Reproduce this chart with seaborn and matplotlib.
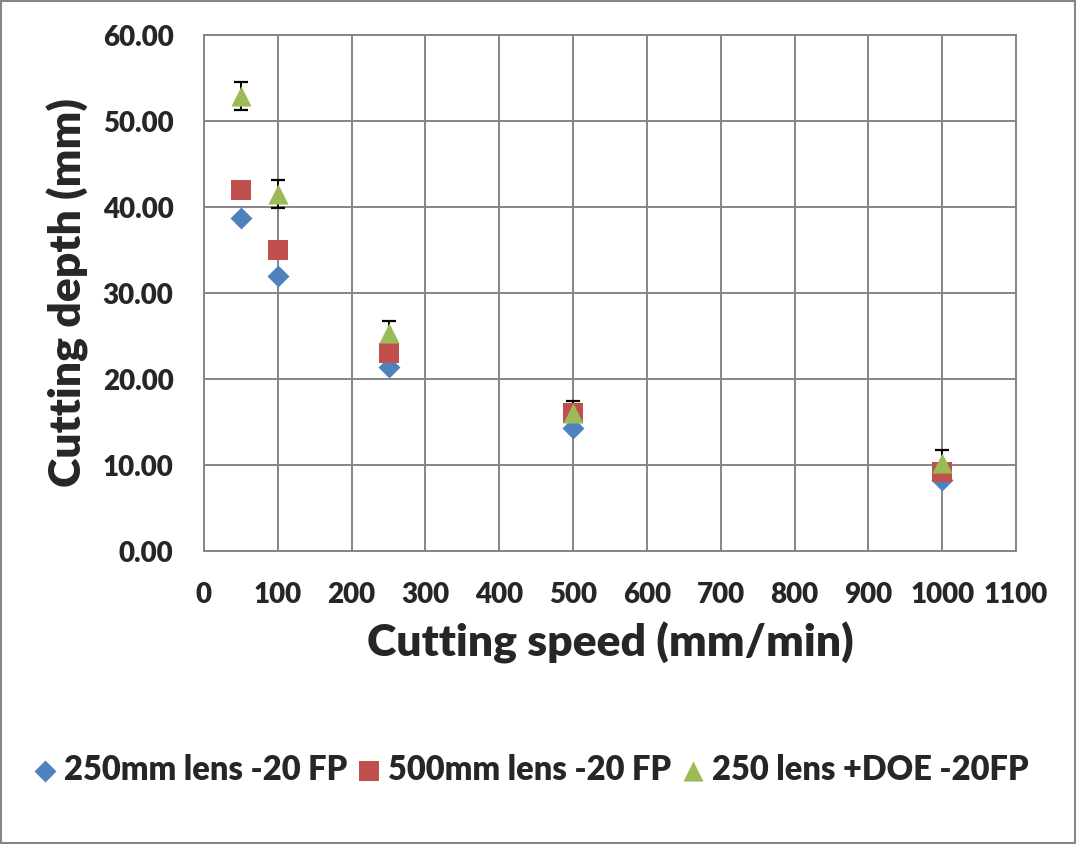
import numpy as np
import pandas as pd
import matplotlib
matplotlib.use('Agg')
import matplotlib.pyplot as plt
import seaborn as sns
from matplotlib.patches import Rectangle

sns.set_theme(style = 'white')
plt.rcParams['font.family'] = ['Lato', 'DejaVu Sans']
plt.rcParams['font.weight'] = 'heavy'

speeds = [50, 100, 250, 500, 1000]
depth_250 = [38.7, 32.0, 21.4, 14.3, 8.3]
depth_500 = [42.0, 35.0, 23.0, 16.1, 9.2]
depth_doe = [52.9, 41.5, 25.3, 16.0, 10.2]
err_doe = [1.6, 1.6, 1.5, 1.5, 1.6]

series_names = ['250mm lens -20 FP', '500mm lens -20 FP', '250 lens +DOE -20FP']


def build_frame():

    rows = []
    for name, vals in zip(series_names, [depth_250, depth_500, depth_doe]):
        for x, y in zip(speeds, vals):
            rows.append({'speed': x, 'depth': y, 'series': name})
    return pd.DataFrame(rows)


def main() -> None:

    df = build_frame()

    fig = plt.figure(figsize = (10.76, 8.44), dpi = 100)
    ax = fig.add_axes([204 / 1076, 1 - 551 / 844, (1016 - 204) / 1076, (551 - 35) / 844])

    grid_col = '#868686'

    ax.errorbar(speeds, depth_doe, yerr = err_doe, fmt = 'none', ecolor = 'black',
                elinewidth = 1.4, capsize = 5, capthick = 1.6, zorder = 2)

    palette = {series_names[0]: '#4F81BD', series_names[1]: '#C0504D', series_names[2]: '#9BBB59'}
    markers = {series_names[0]: 'D', series_names[1]: 's', series_names[2]: '^'}
    sizes = {series_names[0]: 125, series_names[1]: 200, series_names[2]: 210}

    for name in series_names:
        sub = df[df['series'] == name]
        sns.scatterplot(data = sub, x = 'speed', y = 'depth', color = palette[name],
                        marker = markers[name], s = sizes[name], linewidth = 0,
                        ax = ax, zorder = 3, label = name)

    ax.set_xlim(0, 1100)
    ax.set_ylim(0, 60)
    ax.set_xticks(np.arange(0, 1101, 100))
    ax.set_yticks(np.arange(0, 61, 10))
    ax.set_yticklabels([f'{v:.2f}' for v in np.arange(0, 61, 10)])
    ax.grid(True, color = grid_col, linewidth = 1.4)
    ax.set_axisbelow(True)
    for sp in ax.spines.values():
        sp.set_color(grid_col)
        sp.set_linewidth(1.4)
    ax.tick_params(axis = 'both', length = 0, labelsize = 20, pad = 22)
    for lab in ax.get_xticklabels() + ax.get_yticklabels():
        lab.set_fontweight('heavy')

    ax.set_xlabel('Cutting speed (mm/min)', fontsize = 32, fontweight = 'heavy', labelpad = 10)
    ax.set_ylabel('Cutting depth (mm)', fontsize = 32, fontweight = 'heavy', labelpad = 10)

    handles, labels = ax.get_legend_handles_labels()
    ax.legend_.remove()
    fig.legend(handles, labels, loc = 'center', bbox_to_anchor = (531 / 1076, 1 - 770 / 844), ncol = 3,
               frameon = False, handletextpad = 0.25, columnspacing = 0.3, handlelength = 0.7,
               markerscale = 1.0, borderaxespad = 0, prop = {'weight': 'heavy', 'size': 23.5})

    fig.patches.append(Rectangle((0.001, 0.001), 0.998, 0.998, transform = fig.transFigure,
                                 fill = False, edgecolor = grid_col, linewidth = 1.5))

    fig.savefig('out.png', dpi = 100)


if __name__ == '__main__': main()
